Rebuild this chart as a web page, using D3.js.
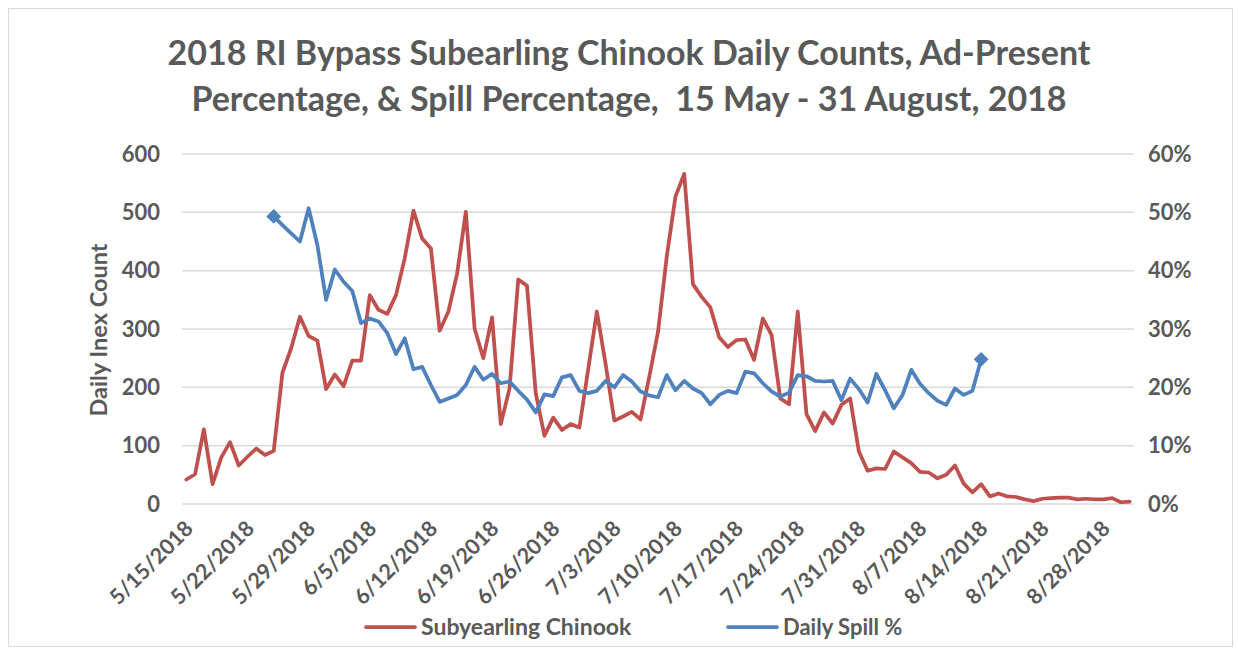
<!DOCTYPE html>
<html><head><meta charset="utf-8">
<script src="https://cdn.jsdelivr.net/npm/d3@7"></script>
<style>
html,body{margin:0;padding:0;background:#fff;}
svg{display:block;font-family:Lato,"Open Sans",sans-serif;}
</style></head>
<body><svg id="c" width="1238" height="648"></svg>
<script>
// ---- data ----
const startDate = "2018-05-15";
const endDate = "2018-08-31";
const titleLines = ["2018 RI Bypass Subearling Chinook Daily Counts, Ad-Present",
                    "Percentage, & Spill Percentage,  15 May - 31 August, 2018"];
const yLeftTicks = [0, 100, 200, 300, 400, 500, 600];
const yRightTicks = [0, 0.1, 0.2, 0.3, 0.4, 0.5, 0.6];
const xTickLabels = ["5/15/2018","5/22/2018","5/29/2018","6/5/2018","6/12/2018","6/19/2018","6/26/2018",
  "7/3/2018","7/10/2018","7/17/2018","7/24/2018","7/31/2018","8/7/2018","8/14/2018","8/21/2018","8/28/2018"];
const seriesNames = ["Subyearling Chinook", "Daily Spill %"];
// Subyearling Chinook daily counts, 5/15 .. 8/31
const chinook = [42,51,128,34,80,106,66,81,95,84,91,225,267,321,288,280,197,222,202,246,
  246,358,333,326,358,421,503,455,438,297,330,395,501,301,250,320,137,198,385,374,
  190,117,148,127,137,131,230,330,240,143,150,158,145,218,295,424,527,566,377,355,
  337,286,269,281,282,247,318,290,181,171,330,154,125,157,138,170,181,90,57,61,
  60,90,80,70,55,54,44,50,66,35,20,34,13,18,13,12,8,5,9,10,
  11,11,8,9,8,8,10,3,4];
// Daily spill fraction, 5/25 .. 8/14
const spillStart = "2018-05-25";
const spill = [0.493,0.478,0.464,0.450,0.507,0.444,0.350,0.402,0.381,0.365,0.310,0.318,0.313,0.293,0.257,
  0.284,0.231,0.235,0.204,0.175,0.181,0.187,0.204,0.235,0.213,0.223,0.207,0.210,0.194,0.179,
  0.157,0.188,0.185,0.217,0.221,0.194,0.190,0.194,0.211,0.200,0.221,0.210,0.193,0.186,0.183,
  0.221,0.195,0.211,0.198,0.190,0.171,0.187,0.194,0.190,0.227,0.224,0.207,0.193,0.184,0.191,
  0.221,0.219,0.211,0.210,0.211,0.178,0.215,0.197,0.174,0.223,0.195,0.164,0.187,0.230,0.206,
  0.190,0.177,0.170,0.198,0.187,0.194,0.248];

// ---- layout ----
const W = 1238, H = 648;
const plot = {left: 182, right: 1134, top: 154, bottom: 504};
const gray = "#595959", red = "#C0504D", blue = "#4F81BD";
const parse = d3.timeParse("%Y-%m-%d");
const fmt = d3.timeFormat("%-m/%-d/%Y");
const days = d3.timeDay.range(parse(startDate), d3.timeDay.offset(parse(endDate), 1));
const keys = days.map(fmt);

const svg = d3.select("#c");
svg.append("rect").attr("x",8.5).attr("y",8.5).attr("width",W-14).attr("height",H-10)
  .attr("fill","#fff").attr("stroke","#d9d9d9").attr("stroke-width",1);

const x = d3.scaleBand().domain(keys).range([plot.left, plot.right]).paddingInner(0).paddingOuter(0);
const cx = k => x(k) + x.bandwidth()/2;
const yL = d3.scaleLinear().domain([0,600]).range([plot.bottom, plot.top]);
const yR = d3.scaleLinear().domain([0,0.6]).range([plot.bottom, plot.top]);

// gridlines
svg.append("g").selectAll("line").data(yLeftTicks).join("line")
  .attr("x1",plot.left).attr("x2",plot.right)
  .attr("y1",d=>yL(d)).attr("y2",d=>yL(d))
  .attr("stroke","#d9d9d9").attr("stroke-width",1.5);

// left axis
const axL = d3.axisLeft(yL).tickValues(yLeftTicks).tickSize(0).tickPadding(22);
const gL = svg.append("g").attr("transform",`translate(${plot.left},0)`).call(axL);
gL.select(".domain").remove();
gL.selectAll("text").attr("fill",gray).style("font-size","22px").style("font-weight","bold")
  .style("font-family","Lato");

// right axis
const axR = d3.axisRight(yR).tickValues(yRightTicks).tickSize(0).tickPadding(14).tickFormat(d3.format(".0%"));
const gR = svg.append("g").attr("transform",`translate(${plot.right},0)`).call(axR);
gR.select(".domain").remove();
gR.selectAll("text").attr("fill",gray).style("font-size","22px").style("font-weight","bold")
  .style("font-family","Lato");

// bottom axis
const axB = d3.axisBottom(x).tickValues(xTickLabels).tickSize(0).tickPadding(0);
const gB = svg.append("g").attr("transform",`translate(0,${plot.bottom})`).call(axB);
gB.select(".domain").remove();
gB.selectAll(".tick text").attr("fill",gray).style("font-size","21.5px").style("font-weight","bold")
  .style("font-family","Lato")
  .attr("text-anchor","end").attr("dy","0").attr("y",0)
  .attr("transform","translate(8,26) rotate(-45)");

// y title
svg.append("text").attr("transform",`translate(107,${(plot.top+plot.bottom)/2+1}) rotate(-90)`)
  .attr("text-anchor","middle").attr("fill",gray)
  .style("font-size","23.5px").style("font-weight","bold").text("Daily Inex Count");

// title
svg.append("g").selectAll("text").data(titleLines).join("text")
  .attr("x",629).attr("y",(d,i)=>65+i*46).attr("text-anchor","middle")
  .attr("fill",gray).style("font-size","34px").style("font-weight","bold")
  .style("white-space","pre").attr("xml:space","preserve").text(d=>d);

// lines
const lineC = d3.line().x((d,i)=>cx(keys[i])).y(d=>yL(d));
svg.append("path").datum(chinook).attr("d",lineC).attr("fill","none")
  .attr("stroke",red).attr("stroke-width",3.75).attr("stroke-linejoin","round").attr("stroke-linecap","round");

const s0 = keys.indexOf(fmt(parse(spillStart)));
const spillPts = spill.map((v,i)=>({k:keys[s0+i], v}));
const lineS = d3.line().x(d=>cx(d.k)).y(d=>yR(d.v));
svg.append("path").datum(spillPts).attr("d",lineS).attr("fill","none")
  .attr("stroke",blue).attr("stroke-width",3.75).attr("stroke-linejoin","round").attr("stroke-linecap","round");
const ends = [spillPts[0], spillPts[spillPts.length-1]];
svg.append("g").selectAll("path").data(ends).join("path")
  .attr("d", d3.symbol(d3.symbolSquare, 110))
  .attr("transform", d=>`translate(${cx(d.k)},${yR(d.v)}) rotate(45)`)
  .attr("fill",blue);

// legend
const legend = [{name:seriesNames[0], color:red, x:366, fs:23},{name:seriesNames[1], color:blue, x:728, fs:22}];
const lg = svg.append("g").selectAll("g").data(legend).join("g")
  .attr("transform",d=>`translate(${d.x},627)`);
lg.append("line").attr("x1",0).attr("x2",49).attr("stroke",d=>d.color).attr("stroke-width",3.75).attr("stroke-linecap","round");
lg.append("text").attr("x",55).attr("dy","0.35em").attr("fill",gray)
  .style("font-size",d=>d.fs+"px").style("font-weight","bold").text(d=>d.name);
</script></body></html>
